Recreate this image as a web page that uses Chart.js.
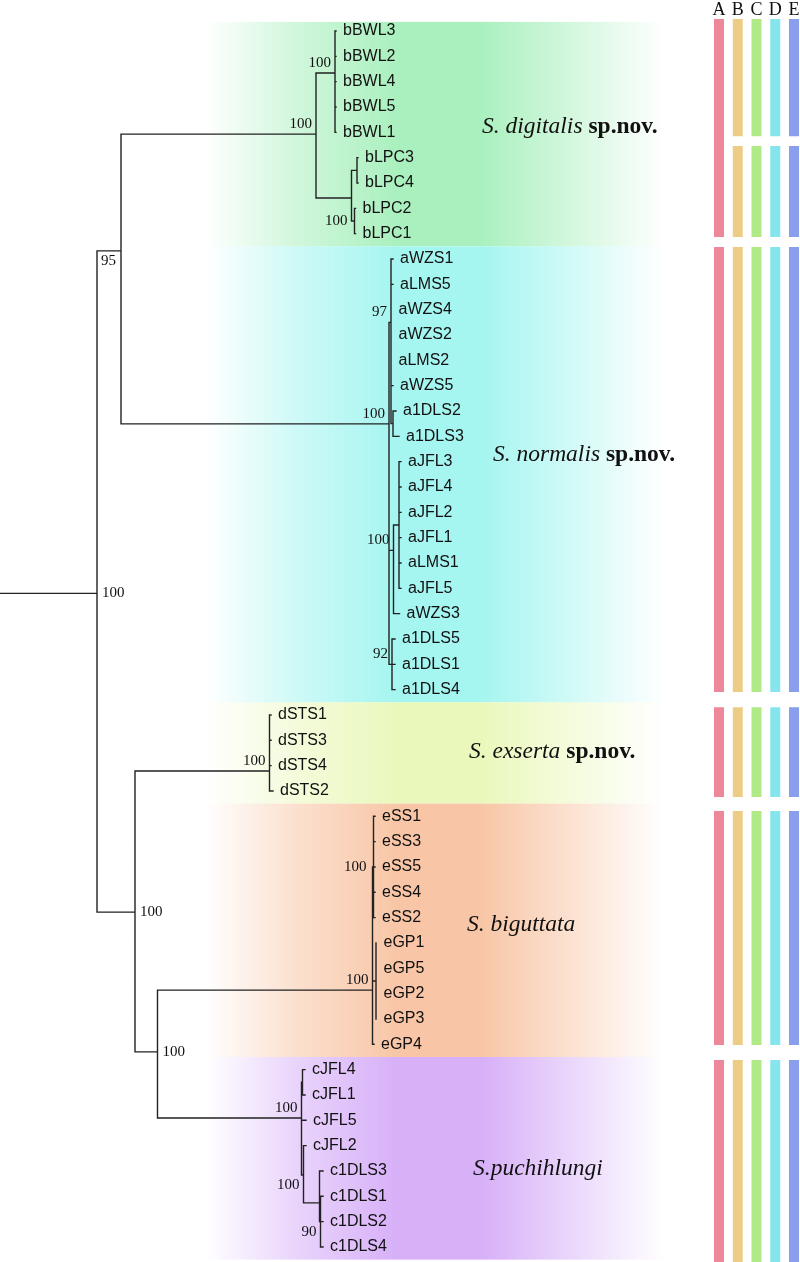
<!DOCTYPE html>
<html>
<head>
<meta charset="utf-8">
<script src="https://cdn.jsdelivr.net/npm/chart.js@4.4.1/dist/chart.umd.min.js"></script>
<style>
  html, body { margin: 0; padding: 0; background: #fff; overflow: hidden; }
  #wrap { position: relative; width: 800px; height: 1262px; }
</style>
</head>
<body>
<div id="wrap"><canvas id="tree"></canvas></div>
<script>
// ---- data ----
// leaves top to bottom (row = index), parent node and tip depth
const leafNames = ['bBWL3', 'bBWL2', 'bBWL4', 'bBWL5', 'bBWL1', 'bLPC3', 'bLPC4', 'bLPC2', 'bLPC1',
  'aWZS1', 'aLMS5', 'aWZS4', 'aWZS2', 'aLMS2', 'aWZS5', 'a1DLS2', 'a1DLS3', 'aJFL3', 'aJFL4', 'aJFL2',
  'aJFL1', 'aLMS1', 'aJFL5', 'aWZS3', 'a1DLS5', 'a1DLS1', 'a1DLS4',
  'dSTS1', 'dSTS3', 'dSTS4', 'dSTS2',
  'eSS1', 'eSS3', 'eSS5', 'eSS4', 'eSS2', 'eGP1', 'eGP5', 'eGP2', 'eGP3', 'eGP4',
  'cJFL4', 'cJFL1', 'cJFL5', 'cJFL2', 'c1DLS3', 'c1DLS1', 'c1DLS2', 'c1DLS4'];
const leafParent = [3, 3, 3, 3, 3, 5, 5, 6, 6,
  8, 8, 8, 8, 8, 8, 9, 9, 11, 11, 11, 11, 11, 11, 10, 12, 12, 12,
  14, 14, 14, 14,
  17, 17, 17, 17, 17, 18, 18, 18, 18, 16,
  20, 20, 19, 21, 22, 23, 23, 23];
const leafDepth = [336, 336, 336, 336, 336, 358, 358, 355.5, 355.5,
  393, 393, 391.5, 391.5, 391.5, 393, 396, 399, 401, 401, 401, 401, 401, 401, 399.5, 395, 395, 395,
  271, 271, 271, 273,
  375, 375, 375, 375, 375, 376.5, 376.5, 376.5, 376.5, 374,
  305, 305, 306, 306, 323, 323, 323, 323];

// internal nodes: parent, depth, row (null = middle of children), bootstrap support
const nodeParent = [-1, 0, 1, 2, 2, 4, 4, 1, 7, 8, 7, 10, 7, 0, 13, 13, 15, 16, 16, 15, 19, 19, 21, 22];
const nodeDepth = [97, 121, 316, 335, 351.5, 357, 354.5, 389, 391, 393, 393.5, 399, 392,
  135, 269.5, 157.5, 372.5, 373.5, 376, 301.5, 302.5, 303.5, 319.5, 320.5];
const nodeRow = [22.2, 8.68, 4.07, 1.66, 6.59, null, null, 15.51, 11.5, null, 20.5, null, null,
  34.78, 29.21, 40.3, 37.86, null, null, 42.91, null, 45.16, 46.26, null];
const nodeSupport = ['100', '95', '100', '100', '', '', '100', '100', '97', '', '100', '', '92',
  '100', '100', '100', '100', '100', '', '100', '', '100', '', '90'];

// clades
const cladeNames = ['S. digitalis', 'S. normalis', 'S. exserta', 'S. biguttata', 'S.puchihlungi'];
const cladeSuffix = ['sp.nov.', 'sp.nov.', 'sp.nov.', '', ''];
const cladeFirst = [0, 9, 27, 31, 41];
const cladeLast = [8, 26, 30, 40, 48];

// species delimitation methods, spans in leaf rows
const methods = ['A', 'B', 'C', 'D', 'E'];
const spansA = [[-0.47, 8.13], [8.53, 26.09], [26.69, 30.24], [30.79, 40.03], [40.62, 48.6]];
const spansOther = [[-0.47, 4.15], [4.54, 8.13], [8.53, 26.09], [26.69, 30.24], [30.79, 40.03], [40.62, 48.6]];
const methodSpans = [spansA, spansOther, spansOther, spansOther, spansOther];

// ---- layout / style ----
const W = 800, H = 1262, ROW_PX = 25.333, FIRST_Y = 31;
const methodColors = ['#ee8799', '#edcd86', '#afea86', '#86e4ec', '#899eec'];
const methodX0 = 719, methodStep = 18.75;
const bandColors = ['170,240,190', '165,245,240', '234,248,188', '248,198,166', '215,176,248'];
const bandX = [205, 665];
const cladeLabelAt = [[482, 3.79], [493, 16.74], [469, 28.46], [467, 35.29], [473, 44.92]];
const supportSide = {0: 'R', 1: 'B', 13: 'R', 15: 'R', 6: 'M', 17: 'M', 21: 'Bl', 23: 'Bl'};

// children rows
const kidRows = nodeDepth.map(() => []);
const kidNodes = nodeDepth.map(() => []);
nodeParent.forEach((p, i) => { if (p >= 0) kidNodes[p].push(i); });
leafParent.forEach((p, r) => kidRows[p].push(r));
function rowOf(i) {
  if (nodeRow[i] !== null) return nodeRow[i];
  const rows = kidRows[i].concat(kidNodes[i].map(rowOf));
  return (Math.min(...rows) + Math.max(...rows)) / 2;
}
const rows = nodeDepth.map((d, i) => rowOf(i));

const treePts = [];
function seg(x0, y0, x1, y1) {
  treePts.push({x: x0, y: y0}, {x: x1, y: y1}, {x: NaN, y: NaN});
}
nodeDepth.forEach((d, i) => {
  const p = nodeParent[i];
  seg(p < 0 ? 0 : nodeDepth[p], rows[i], d, rows[i]);
  const all = kidRows[i].concat(kidNodes[i].map(k => rows[k]));
  seg(d, Math.min(...all), d, Math.max(...all));
});
leafNames.forEach((n, r) => seg(nodeDepth[leafParent[r]], r, leafDepth[r], r));

const barSets = methods.map((m, k) => ({
  type: 'bar',
  label: m,
  data: methodSpans[k].map(s => ({x: methodX0 + k * methodStep, y: s})),
  backgroundColor: methodColors[k],
  borderWidth: 0,
  grouped: false,
  maxBarThickness: 10
}));

const bandPlugin = {
  id: 'bands',
  beforeDatasetsDraw(chart) {
    const {ctx, scales: {x, y}} = chart;
    const x0 = x.getPixelForValue(bandX[0]), x1 = x.getPixelForValue(bandX[1]);
    ctx.save();
    cladeNames.forEach((n, i) => {
      const top = y.getPixelForValue(cladeFirst[i] - (i === 0 ? 0.36 : 0.5));
      const bot = y.getPixelForValue(cladeLast[i] + 0.5);
      const c = bandColors[i];
      const g = ctx.createLinearGradient(x0, 0, x1, 0);
      g.addColorStop(0, `rgba(${c},0)`);
      g.addColorStop(0.2, `rgba(${c},0.55)`);
      g.addColorStop(0.42, `rgba(${c},1)`);
      g.addColorStop(0.6, `rgba(${c},1)`);
      g.addColorStop(0.8, `rgba(${c},0.5)`);
      g.addColorStop(1, `rgba(${c},0)`);
      ctx.fillStyle = g;
      ctx.fillRect(x0, top, x1 - x0, bot - top);
    });
    ctx.restore();
  }
};

const labelPlugin = {
  id: 'labels',
  afterDatasetsDraw(chart) {
    const {ctx, scales: {x, y}} = chart;
    ctx.save();
    ctx.fillStyle = '#111';
    ctx.textBaseline = 'middle';
    // leaf names
    ctx.font = '16px "Liberation Sans", Arial, sans-serif';
    ctx.textAlign = 'left';
    leafNames.forEach((n, r) => ctx.fillText(n, x.getPixelForValue(leafDepth[r]) + 7, y.getPixelForValue(r)));
    // support values
    ctx.font = '15px "Liberation Serif", "Times New Roman", serif';
    nodeSupport.forEach((s, i) => {
      if (!s) return;
      const side = supportSide[i] || 'A';
      const nx = x.getPixelForValue(nodeDepth[i]), ny = y.getPixelForValue(rows[i]);
      if (side === 'R') {
        ctx.textAlign = 'left'; ctx.fillText(s, nx + 5, ny);
      } else if (side === 'B') {
        ctx.textAlign = 'left'; ctx.fillText(s, x.getPixelForValue(nodeDepth[nodeParent[i]]) + 4, ny + 10);
      } else if (side === 'M') {
        ctx.textAlign = 'right'; ctx.fillText(s, nx - 7, ny);
      } else if (side === 'Bl') {
        ctx.textAlign = 'right'; ctx.fillText(s, nx - 4, ny + 10);
      } else {
        ctx.textAlign = 'right'; ctx.fillText(s, nx - 4, ny - 10);
      }
    });
    // clade names
    ctx.textAlign = 'left';
    cladeNames.forEach((n, i) => {
      let lx = x.getPixelForValue(cladeLabelAt[i][0]);
      const ly = y.getPixelForValue(cladeLabelAt[i][1]);
      ctx.font = 'italic 23.5px "Liberation Serif", "Times New Roman", serif';
      ctx.fillText(n, lx, ly);
      if (cladeSuffix[i]) {
        lx += ctx.measureText(n + ' ').width;
        ctx.font = 'bold 23.5px "Liberation Serif", "Times New Roman", serif';
        ctx.fillText(cladeSuffix[i], lx, ly);
      }
    });
    // method headers
    ctx.font = '18px "Liberation Serif", "Times New Roman", serif';
    ctx.textAlign = 'center';
    ctx.textBaseline = 'alphabetic';
    methods.forEach((m, k) => ctx.fillText(m, x.getPixelForValue(methodX0 + k * methodStep), 15));
    ctx.restore();
  }
};

new Chart(document.getElementById('tree'), {
  type: 'scatter',
  data: {
    datasets: [{
      type: 'scatter',
      label: 'tree',
      data: treePts,
      showLine: true,
      spanGaps: false,
      pointRadius: 0,
      borderColor: '#222',
      borderWidth: 1.4,
      borderCapStyle: 'square'
    }].concat(barSets)
  },
  options: {
    responsive: true,
    maintainAspectRatio: false,
    animation: false,
    events: [],
    layout: {padding: 0},
    plugins: {legend: {display: false}, tooltip: {enabled: false}},
    scales: {
      x: {type: 'linear', min: 0, max: W, display: false, offset: false},
      y: {type: 'linear', reverse: true, min: -FIRST_Y / ROW_PX, max: (H - FIRST_Y) / ROW_PX, display: false}
    }
  },
  plugins: [bandPlugin, labelPlugin]
});
</script>
</body>
</html>
